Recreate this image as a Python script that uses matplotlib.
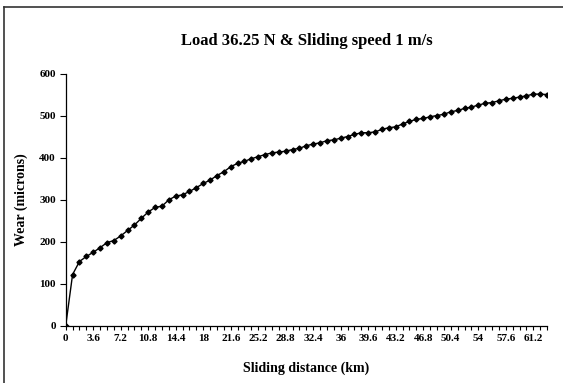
import matplotlib
matplotlib.use("Agg")
import matplotlib.pyplot as plt
from matplotlib.lines import Line2D
from matplotlib.ticker import FixedLocator, FixedFormatter

# sliding distance (km), one reading every 0.9 km
distance_km = [
    0.0, 0.9, 1.8, 2.7, 3.6, 4.5, 5.4, 6.3, 7.2, 8.1,
    9.0, 9.9, 10.8, 11.7, 12.6, 13.5, 14.4, 15.3, 16.2, 17.1,
    18.0, 18.9, 19.8, 20.7, 21.6, 22.5, 23.4, 24.3, 25.2, 26.1,
    27.0, 27.9, 28.8, 29.7, 30.6, 31.5, 32.4, 33.3, 34.2, 35.1,
    36.0, 36.9, 37.8, 38.7, 39.6, 40.5, 41.4, 42.3, 43.2, 44.1,
    45.0, 45.9, 46.8, 47.7, 48.6, 49.5, 50.4, 51.3, 52.2, 53.1,
    54.0, 54.9, 55.8, 56.7, 57.6, 58.5, 59.4, 60.3, 61.2, 62.1,
    63.0,
]
wear_microns = [
    0, 122, 153, 165, 175, 186, 198, 203, 214, 227,
    240, 256, 271, 282, 285, 300, 309, 312, 320, 329,
    339, 347, 358, 367, 379, 387, 392, 398, 403, 408,
    412, 414, 416, 420, 423, 429, 433, 436, 441, 443,
    447, 451, 456, 460, 460, 462, 468, 472, 474, 481,
    487, 492, 494, 498, 501, 504, 510, 513, 518, 521,
    526, 530, 532, 536, 540, 542, 545, 548, 552, 552,
    551,
]
label_ticks = [0, 3.6, 7.2, 10.8, 14.4, 18, 21.6, 25.2, 28.8, 32.4, 36,
               39.6, 43.2, 46.8, 50.4, 54, 57.6, 61.2]
y_ticks = [0, 100, 200, 300, 400, 500, 600]

plt.rcParams["font.family"] = ["Liberation Serif", "DejaVu Serif"]
plt.rcParams["font.weight"] = "bold"

fig = plt.figure(figsize=(5.63, 3.83), dpi=100)
ax = fig.add_axes([0.1167, 0.1496, 0.8549, 0.6572])

ax.plot(distance_km, wear_microns, "-", color="black", lw=1.0,
        marker="D", ms=2.6, mfc="black", mec="black")

ax.set_xlim(0, 63)
ax.set_ylim(0, 600)
ax.xaxis.set_major_locator(FixedLocator(label_ticks))
ax.xaxis.set_major_formatter(FixedFormatter(["%g" % t for t in label_ticks]))
ax.xaxis.set_minor_locator(FixedLocator(distance_km))
ax.set_yticks(y_ticks)

for s in ("top", "right"):
    ax.spines[s].set_visible(False)
for s in ("left", "bottom"):
    ax.spines[s].set_linewidth(0.9)
ax.tick_params(axis="x", which="both", direction="out", length=3, width=0.8,
               labelsize=8, pad=3)
ax.tick_params(axis="y", direction="out", length=4, width=0.8, labelsize=8, pad=3)
for lab in ax.get_xticklabels() + ax.get_yticklabels():
    lab.set_fontweight("bold")

ax.set_title("Load 36.25 N & Sliding speed 1 m/s", fontsize=12,
             fontweight="bold", pad=21)
ax.set_xlabel("Sliding distance (km)", fontsize=10, fontweight="bold", labelpad=13)
ax.set_ylabel("Wear (microns)", fontsize=10, fontweight="bold", labelpad=8)

# outer frame (only top and left edges are visible in the image)
fig.add_artist(Line2D([4 / 563, 1], [1 - 7 / 383, 1 - 7 / 383], color="#333333",
                      lw=1.2, transform=fig.transFigure))
fig.add_artist(Line2D([4 / 563, 4 / 563], [0, 1 - 7 / 383], color="#333333",
                      lw=1.2, transform=fig.transFigure))

fig.savefig("out.png", dpi=100)
